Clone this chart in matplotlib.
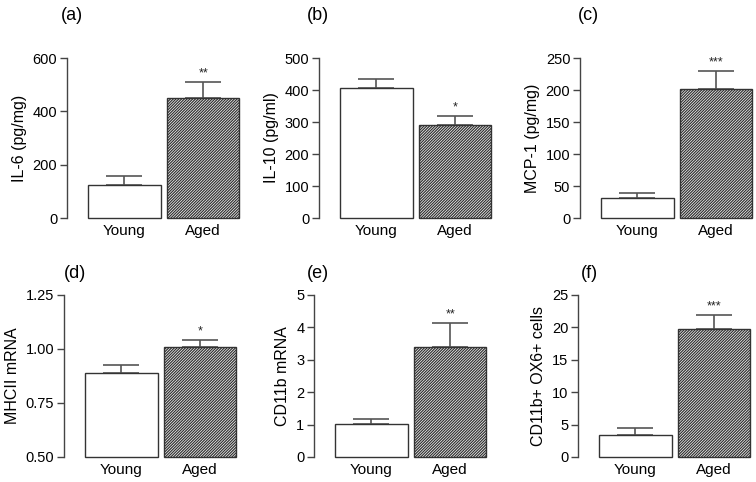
import matplotlib
matplotlib.use("Agg")
import matplotlib.pyplot as plt
import matplotlib.ticker as ticker

plt.rcParams['font.family'] = ['Liberation Sans', 'DejaVu Sans']
plt.rcParams['hatch.linewidth'] = 0.9
plt.rcParams['hatch.color'] = '#333333'

groups = ["Young", "Aged"]

il6_mean = [122, 450]
il6_err = [37, 61]
il10_mean = [405, 291]
il10_err = [29, 27]
mcp1_mean = [32, 202]
mcp1_err = [7, 27]
mhcii_mean = [0.89, 1.007]
mhcii_err = [0.037, 0.034]
cd11b_mean = [1.03, 3.39]
cd11b_err = [0.14, 0.75]
ox6_mean = [3.46, 19.75]
ox6_err = [1.0, 2.2]

stars = ["**", "*", "***", "*", "**", "***"]
panel_labels = ["(a)", "(b)", "(c)", "(d)", "(e)", "(f)"]
y_labels = ["IL-6 (pg/mg)", "IL-10 (pg/ml)", "MCP-1 (pg/mg)",
            "MHCII mRNA", "CD11b mRNA", "CD11b+ OX6+ cells"]
y_ticks = [[0, 200, 400, 600],
           [0, 100, 200, 300, 400, 500],
           [0, 50, 100, 150, 200, 250],
           [0.50, 0.75, 1.00, 1.25],
           [0, 1, 2, 3, 4, 5],
           [0, 5, 10, 15, 20, 25]]

means = [il6_mean, il10_mean, mcp1_mean, mhcii_mean, cd11b_mean, ox6_mean]
errs = [il6_err, il10_err, mcp1_err, mhcii_err, cd11b_err, ox6_err]

W, H = 756, 482
# spine x position (px) per panel, row top/bottom (px from top)
lefts = [67, 319, 580, 64, 314, 578]
rows = [(58, 218), (58, 218), (58, 218), (295, 457), (295, 457), (295, 457)]
ax_w = 174
# panel letter: x offset from spine, y above axes top (px)
lab_dx = [5, -1, 8, 11, 4, 11]
lab_dy = [43, 43, 43, 22, 22, 22]

fig = plt.figure(figsize=(W / 100, H / 100), dpi=100)

for i in range(6):
    top, bot = rows[i]
    ax = fig.add_axes([lefts[i] / W, 1 - bot / H, ax_w / W, (bot - top) / H])
    base = y_ticks[i][0]
    heights = [m - base for m in means[i]]
    x = [0, 1]
    ax.bar(x, heights, bottom=base, width=0.92, color=['white', 'white'],
           edgecolor='#333333', linewidth=1.0, hatch=[None, '/' * 12],
           clip_on=False, zorder=2)
    ax.errorbar(x, means[i], yerr=[[0, 0], errs[i]], fmt='none',
                ecolor='#555555', elinewidth=1.2, capsize=13, capthick=1.2,
                zorder=1, clip_on=False)
    top_val = means[i][1] + errs[i][1]
    ax.annotate(stars[i], (1, top_val), xytext=(0, 2), textcoords='offset points',
                ha='center', va='bottom', fontsize=9, color='#222222')

    ax.set_xlim(-0.73, 1.48)
    ax.set_ylim(y_ticks[i][0], y_ticks[i][-1])
    ax.set_yticks(y_ticks[i])
    if i == 3:
        ax.yaxis.set_major_formatter(ticker.FormatStrFormatter('%.2f'))
    ax.set_xticks(x)
    ax.set_xticklabels(groups, fontsize=11)
    ax.tick_params(axis='x', length=0, pad=4)
    ax.tick_params(axis='y', length=5, width=1, color='#444444', labelsize=10.5, pad=2)
    for s in ['top', 'right', 'bottom']:
        ax.spines[s].set_visible(False)
    ax.spines['left'].set_color('#444444')
    ax.spines['left'].set_linewidth(1)
    ax.set_ylabel(y_labels[i], fontsize=11.5)
    ax.text(lab_dx[i] / ax_w, 1.0 + lab_dy[i] / (bot - top), panel_labels[i],
            transform=ax.transAxes, fontsize=13, ha='center', va='center')

fig.savefig("out.png", dpi=100)
